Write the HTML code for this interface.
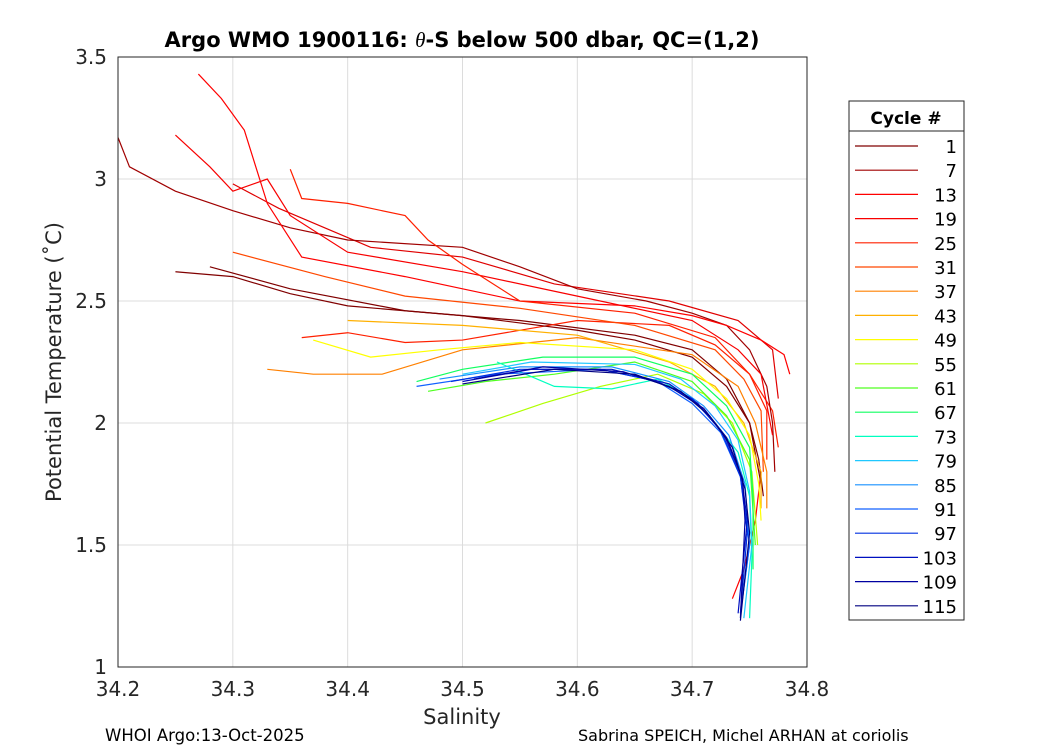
<!DOCTYPE html>
<html><head><meta charset="utf-8"><style>
body{margin:0;background:#fff;}
svg{display:block;font-family:"DejaVu Sans","Liberation Sans",sans-serif;}
</style></head><body>
<svg id="chart" width="1050" height="750">
<rect width="1050" height="750" fill="#fff"/>
<g id="grid"></g>
<g id="lines"></g>
<rect x="118" y="57" width="689" height="610" fill="none" stroke="#262626" stroke-width="1"/>
<g id="ticks"></g>
<text x="462" y="47" text-anchor="middle" font-size="21" font-weight="bold" fill="#000">Argo WMO 1900116: <tspan font-style="italic" font-weight="normal" font-family="Liberation Serif,serif">θ</tspan>-S below 500 dbar,  QC=(1,2)</text>
<text x="462" y="724" text-anchor="middle" font-size="21" fill="#262626">Salinity</text>
<text transform="translate(61,362) rotate(-90)" text-anchor="middle" font-size="21" fill="#262626">Potential Temperature (˚C)</text>
<text x="105" y="741" font-size="16.5" fill="#000">WHOI Argo:13-Oct-2025</text>
<text x="578" y="741" font-size="16" fill="#000">Sabrina SPEICH, Michel ARHAN at coriolis</text>
<g id="legend">
<rect x="849" y="101" width="115" height="519" fill="#fff" stroke="#262626"/>
<line x1="849" y1="131" x2="964" y2="131" stroke="#262626"/>
<text x="906" y="124" text-anchor="middle" font-size="17" font-weight="bold" fill="#000">Cycle #</text>
</g>
</svg>
<script>
const NS="http://www.w3.org/2000/svg";
const xTicks=[34.2,34.3,34.4,34.5,34.6,34.7,34.8];
const yTicks=[1,1.5,2,2.5,3,3.5];
const xTickLabels=["34.2","34.3","34.4","34.5","34.6","34.7","34.8"];
const yTickLabels=["1","1.5","2","2.5","3","3.5"];
const cycles=[1,7,13,19,25,31,37,43,49,55,61,67,73,79,85,91,97,103,109,115];
const cycleColors=["#800000","#a00000","#ff0000","#f80000","#ff2000","#ff4800","#ff8000","#ffb000","#ffff00","#b0ff00","#50ff20","#10ff60","#00ffc0","#20c8ff","#1890ff","#1060ff","#0030e0","#0010c0","#0000a0","#000080"];
const p1=[[34.25,2.62],[34.3,2.6],[34.35,2.53],[34.4,2.48],[34.5,2.44],[34.6,2.38],[34.65,2.34],[34.7,2.27],[34.73,2.15],[34.75,2.0],[34.758,1.85],[34.762,1.7]];
const p7=[[34.2,3.17],[34.21,3.05],[34.25,2.95],[34.3,2.87],[34.35,2.8],[34.4,2.75],[34.5,2.72],[34.55,2.64],[34.6,2.55],[34.66,2.5],[34.7,2.45],[34.73,2.4],[34.75,2.3],[34.765,2.15],[34.77,2.0],[34.772,1.8]];
const p13=[[34.27,3.43],[34.29,3.33],[34.31,3.2],[34.32,3.05],[34.33,2.9],[34.36,2.68],[34.45,2.6],[34.5,2.55],[34.55,2.5],[34.65,2.48],[34.7,2.44],[34.73,2.4],[34.76,2.34],[34.78,2.28],[34.785,2.2]];
const p19=[[34.25,3.18],[34.28,3.05],[34.3,2.95],[34.33,3.0],[34.35,2.85],[34.4,2.7],[34.5,2.62],[34.6,2.52],[34.7,2.42],[34.74,2.3],[34.76,2.2],[34.77,1.95]];
const p25=[[34.35,3.04],[34.36,2.92],[34.4,2.9],[34.45,2.85],[34.47,2.75],[34.5,2.65],[34.55,2.5],[34.65,2.45],[34.72,2.35],[34.75,2.2],[34.765,2.05],[34.765,1.85]];
const p31=[[34.3,2.7],[34.38,2.6],[34.45,2.52],[34.55,2.47],[34.65,2.4],[34.72,2.3],[34.745,2.18],[34.76,2.05],[34.762,1.8]];
const p37=[[34.33,2.22],[34.37,2.2],[34.43,2.2],[34.5,2.3],[34.6,2.35],[34.7,2.28],[34.74,2.15],[34.755,2.0],[34.765,1.8],[34.765,1.65]];
const p43=[[34.4,2.42],[34.5,2.4],[34.6,2.36],[34.68,2.25],[34.72,2.15],[34.745,2.0],[34.76,1.8],[34.76,1.65]];
const p49=[[34.37,2.34],[34.42,2.27],[34.48,2.3],[34.55,2.33],[34.65,2.3],[34.7,2.22],[34.73,2.1],[34.75,1.95],[34.758,1.75],[34.76,1.6]];
const p55=[[34.52,2.0],[34.57,2.08],[34.62,2.15],[34.67,2.2],[34.71,2.12],[34.735,2.0],[34.752,1.8],[34.757,1.5]];
const p61=[[34.47,2.13],[34.52,2.17],[34.58,2.2],[34.65,2.25],[34.7,2.17],[34.73,2.03],[34.75,1.85],[34.755,1.5]];
const p67=[[34.46,2.17],[34.5,2.22],[34.57,2.27],[34.65,2.27],[34.7,2.2],[34.73,2.07],[34.75,1.9],[34.753,1.7],[34.753,1.4]];
const p73=[[34.53,2.25],[34.58,2.15],[34.63,2.14],[34.67,2.18],[34.7,2.1],[34.72,2.0],[34.74,1.88],[34.75,1.7],[34.752,1.45],[34.75,1.2]];
const p79=[[34.5,2.2],[34.56,2.25],[34.65,2.24],[34.69,2.18],[34.72,2.07],[34.74,1.93],[34.75,1.72],[34.752,1.5],[34.745,1.2]];
const p85=[[34.48,2.18],[34.55,2.23],[34.63,2.23],[34.68,2.17],[34.71,2.07],[34.732,1.95],[34.746,1.75],[34.75,1.5],[34.742,1.22]];
const p91=[[34.46,2.15],[34.53,2.2],[34.62,2.22],[34.67,2.17],[34.7,2.08],[34.725,1.96],[34.742,1.78],[34.75,1.5],[34.743,1.25]];
const p97=[[34.49,2.17],[34.55,2.22],[34.62,2.22],[34.67,2.17],[34.7,2.1],[34.725,1.97],[34.742,1.78],[34.748,1.55],[34.742,1.22]];
const p103=[[34.5,2.17],[34.56,2.22],[34.63,2.22],[34.68,2.16],[34.705,2.08],[34.728,1.95],[34.743,1.78],[34.748,1.6],[34.74,1.22]];
const p109=[[34.51,2.18],[34.57,2.23],[34.64,2.21],[34.68,2.15],[34.71,2.06],[34.73,1.94],[34.744,1.77],[34.746,1.6],[34.742,1.2]];
const p115=[[34.5,2.16],[34.58,2.22],[34.65,2.2],[34.69,2.13],[34.715,2.03],[34.735,1.9],[34.746,1.73],[34.75,1.55],[34.742,1.19]];
const profiles=[p1,p7,p13,p19,p25,p31,p37,p43,p49,p55,p61,p67,p73,p79,p85,p91,p97,p103,p109,p115];
const extraRed=[[34.735,1.28],[34.745,1.4],[34.755,1.6],[34.76,1.8]];
const extraDark=[[34.28,2.64],[34.35,2.55],[34.45,2.46],[34.55,2.42],[34.65,2.36],[34.7,2.3],[34.73,2.18],[34.75,2.0],[34.76,1.75]];
const extraRed2=[[34.36,2.35],[34.4,2.37],[34.45,2.33],[34.5,2.34],[34.6,2.42],[34.68,2.4],[34.72,2.32],[34.75,2.2],[34.77,2.05],[34.775,1.9]];
const extraRed3=[[34.3,2.98],[34.34,2.88],[34.38,2.8],[34.42,2.72],[34.5,2.68],[34.58,2.57],[34.68,2.5],[34.74,2.42],[34.77,2.3],[34.775,2.1]];
const xs=s=>118+(s-34.2)/0.6*689;
const ty=t=>667-(t-1)/2.5*610;
const grid=document.getElementById('grid'),ticks=document.getElementById('ticks'),lines=document.getElementById('lines'),leg=document.getElementById('legend');
function mk(tag,attrs,parent){const e=document.createElementNS(NS,tag);for(const k in attrs)e.setAttribute(k,attrs[k]);parent.appendChild(e);return e;}
xTicks.forEach((v,i)=>{const x=xs(v);
 const g=mk('line',{x1:x,x2:x,y1:57,y2:667,stroke:'#dcdcdc'},grid);
 
 
 const t=mk('text',{x:x,y:696,'text-anchor':'middle','font-size':20,fill:'#262626'},ticks);t.textContent=xTickLabels[i];
 
 });
yTicks.forEach((v,i)=>{const y=ty(v);
 const g=mk('line',{x1:118,x2:807,y1:y,y2:y,stroke:'#dcdcdc'},grid);
 
 
 const t=mk('text',{x:107,y:y+7,'text-anchor':'end','font-size':20,fill:'#262626'},ticks);t.textContent=yTickLabels[i];
 
 });
function draw(pts,col,name){const p=mk('polyline',{points:pts.map(d=>xs(d[0])+','+ty(d[1])).join(' '),fill:'none',stroke:col,'stroke-width':1.2},lines);
 
 }
draw(extraRed,'#ff0000','profile-extra-red');
draw(extraDark,'#800000','profile-extra-dark');
draw(extraRed2,'#ff2000','profile-extra-red-2');
draw(extraRed3,'#e00000','profile-extra-red-3');
profiles.forEach((pts,i)=>draw(pts,cycleColors[i],'profile-cycle-'+cycles[i]));
cycles.forEach((c,i)=>{const y=146+i*24.2;
 const l=mk('line',{x1:855,x2:918,y1:y,y2:y,stroke:cycleColors[i],'stroke-width':1.2},leg);
 
 
 const t=mk('text',{x:957,y:y+7,'text-anchor':'end','font-size':18,fill:'#000'},leg);t.textContent=c;
 
 });
</script>
</body></html>
